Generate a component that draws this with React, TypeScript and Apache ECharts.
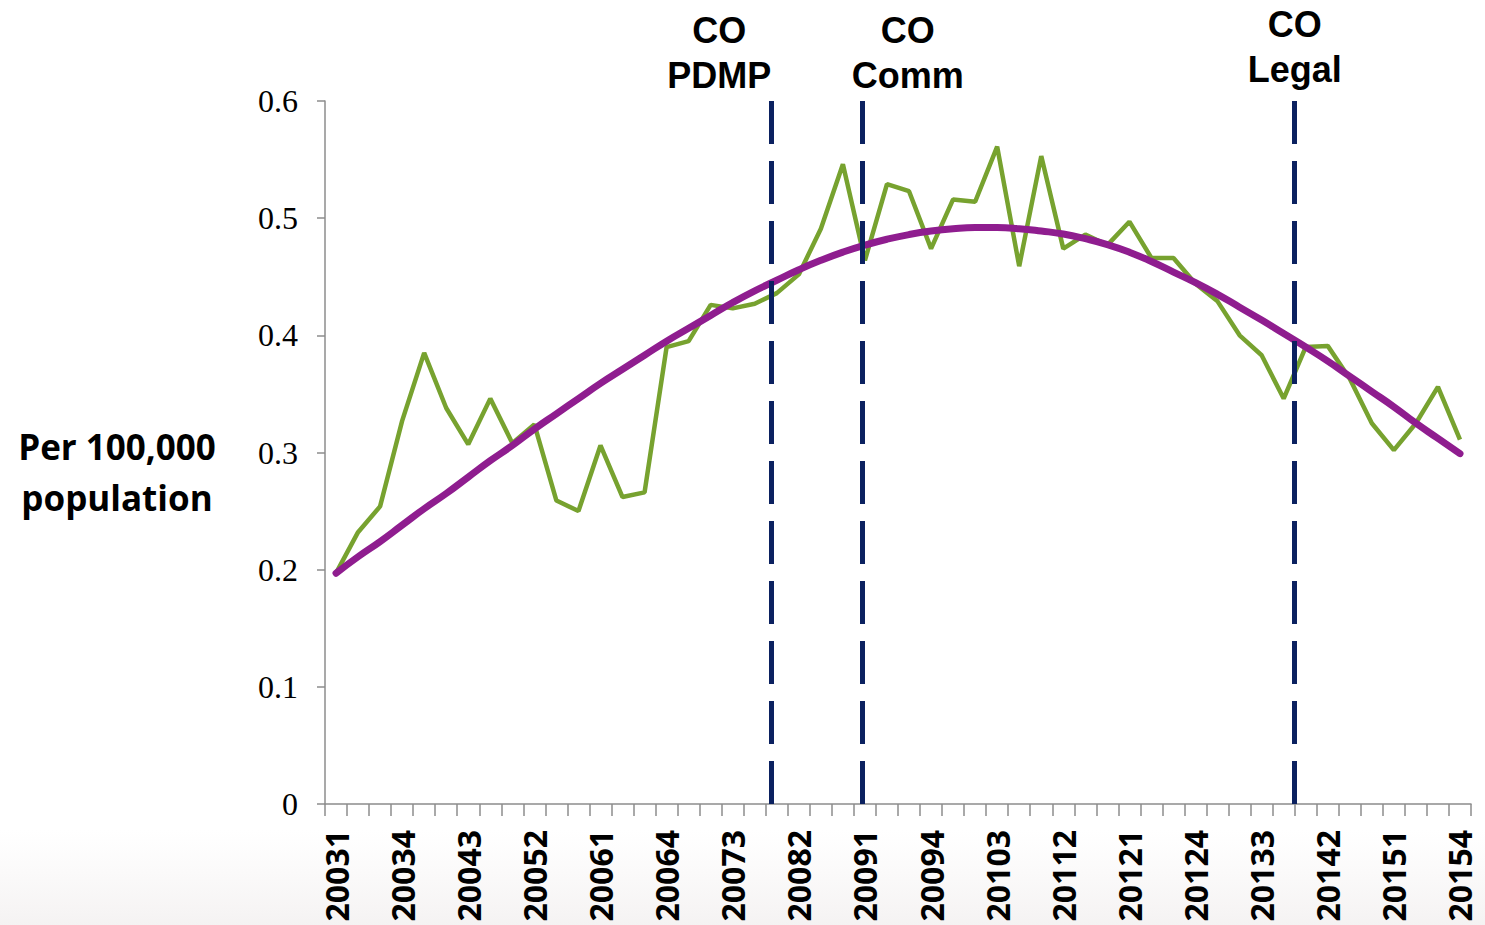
import React, { useEffect, useRef } from "react";
import * as echarts from "echarts";

const quarters = [
  "20031", "20032", "20033", "20034",
  "20041", "20042", "20043", "20044",
  "20051", "20052", "20053", "20054",
  "20061", "20062", "20063", "20064",
  "20071", "20072", "20073", "20074",
  "20081", "20082", "20083", "20084",
  "20091", "20092", "20093", "20094",
  "20101", "20102", "20103", "20104",
  "20111", "20112", "20113", "20114",
  "20121", "20122", "20123", "20124",
  "20131", "20132", "20133", "20134",
  "20141", "20142", "20143", "20144",
  "20151", "20152", "20153", "20154",
];

const rates = [
  0.197, 0.232, 0.254, 0.327, 0.385, 0.338, 0.307, 0.346, 0.308, 0.324,
  0.259, 0.250, 0.306, 0.262, 0.266, 0.390, 0.395, 0.426, 0.423, 0.427,
  0.436, 0.452, 0.491, 0.546, 0.464, 0.529, 0.523, 0.474, 0.516, 0.514,
  0.561, 0.459, 0.553, 0.474, 0.486, 0.477, 0.497, 0.466, 0.466, 0.444,
  0.429, 0.400, 0.383, 0.346, 0.390, 0.391, 0.363, 0.325, 0.302, 0.325,
  0.356, 0.311,
];

const trend = [
  0.197, 0.211, 0.224, 0.238, 0.252, 0.265, 0.279, 0.293, 0.306, 0.320,
  0.333, 0.346, 0.359, 0.371, 0.383, 0.395, 0.406, 0.417, 0.428, 0.438,
  0.447, 0.456, 0.464, 0.471, 0.477, 0.482, 0.486, 0.489, 0.491, 0.492,
  0.492, 0.491, 0.489, 0.4865, 0.4825, 0.4775, 0.471, 0.463, 0.454, 0.445,
  0.435, 0.424, 0.413, 0.4015, 0.390, 0.378, 0.365, 0.352, 0.339, 0.325,
  0.312, 0.299,
];

const yTicks = { min: 0, max: 0.6, step: 0.1 };

const eventLabels = ["CO\nPDMP", "CO\nComm", "CO\nLegal"];
// event positions in quarter-index units (0 = 20031)
const eventPositions = [19.75, 23.9, 43.5];

const yAxisTitle = "Per 100,000\npopulation";

// layout for annotation texts (not data)
const LABEL_DX = [-52, 45, 0];
const LABEL_TOP = [8, 8, 2];

export default function App() {
  const ref = useRef<HTMLDivElement>(null);

  useEffect(() => {
    if (!ref.current) return;
    const chart = echarts.init(ref.current, undefined, { renderer: "svg" });
    const option: any = {
      animation: false,
      backgroundColor: "#ffffff",
      grid: { left: 325, right: 14, top: 101, bottom: 121, containLabel: false },
      xAxis: [
        {
          type: "category",
          data: quarters,
          boundaryGap: true,
          axisLine: { show: true, onZero: false, lineStyle: { color: "#8c8c8c", width: 1.5 } },
          axisTick: {
            show: true,
            interval: 0,
            length: 12,
            lineStyle: { color: "#8c8c8c", width: 1.5 },
          },
          axisLabel: {
            interval: 2,
            rotate: 90,
            margin: 26,
            color: "#000",
            fontFamily: "Open Sans",
            fontWeight: "bold",
            fontSize: 32,
          },
          splitLine: { show: false },
        },
        {
          type: "value",
          min: -0.5,
          max: quarters.length - 0.5,
          show: false,
        },
      ],
      yAxis: {
        type: "value",
        min: yTicks.min,
        max: yTicks.max,
        interval: yTicks.step,
        axisLine: { show: true, onZero: false, lineStyle: { color: "#8c8c8c", width: 1.5 } },
        axisTick: { show: true, length: 8, lineStyle: { color: "#8c8c8c", width: 1.5 } },
        axisLabel: {
          margin: 27,
          color: "#000",
          fontFamily: "Liberation Serif",
          fontSize: 32,
        },
        splitLine: { show: false },
      },
      series: [
        {
          name: "Rate",
          type: "line",
          data: rates,
          xAxisIndex: 0,
          symbol: "none",
          z: 3,
          lineStyle: { color: "#77a22f", width: 4.5 },
          itemStyle: { color: "#77a22f" },
        },
        {
          name: "Trend",
          type: "line",
          data: trend,
          xAxisIndex: 0,
          smooth: true,
          symbol: "none",
          z: 4,
          lineStyle: { color: "#8f1d8f", width: 7, cap: "round" },
          itemStyle: { color: "#8f1d8f" },
        },
        {
          name: "Events",
          type: "line",
          xAxisIndex: 1,
          data: eventPositions.map((p) => [p, 0]),
          symbol: "none",
          z: 5,
          lineStyle: { opacity: 0 },
          markLine: {
            silent: true,
            symbol: ["none", "none"],
            label: { show: false },
            lineStyle: { color: "#0b2160", width: 5, type: [43, 17] },
            data: eventPositions.map((p) => ({ xAxis: p })),
          },
        },
      ],
    };
    chart.setOption(option);

    const labelGraphics = eventLabels.map((t, k) => {
      const px = chart.convertToPixel({ xAxisIndex: 1 }, eventPositions[k]) as number;
      return {
        type: "text",
        x: px + LABEL_DX[k],
        y: LABEL_TOP[k],
        z: 10,
        style: {
          text: t,
          fill: "#000",
          fontFamily: "Liberation Sans",
          fontWeight: "bold",
          fontSize: 36,
          lineHeight: 45,
          align: "center",
          verticalAlign: "top",
        },
      };
    });

    chart.setOption({
      graphic: [
        {
          type: "rect",
          z: -1,
          silent: true,
          shape: { x: 0, y: 830, width: 1485, height: 95 },
          style: {
            fill: {
              type: "linear",
              x: 0,
              y: 0,
              x2: 0,
              y2: 1,
              colorStops: [
                { offset: 0, color: "rgba(240,236,236,0)" },
                { offset: 1, color: "rgba(236,232,232,0.55)" },
              ],
            },
          },
        },
        {
          type: "text",
          x: 117,
          y: 472,
          z: 10,
          style: {
            text: yAxisTitle,
            fill: "#000",
            fontFamily: "Open Sans",
            fontWeight: "bold",
            fontSize: 35,
            lineHeight: 51,
            align: "center",
            verticalAlign: "middle",
          },
        },
        ...labelGraphics,
      ],
    });

    return () => chart.dispose();
  }, []);

  return (
    <div
      ref={ref}
      style={{ position: "fixed", left: 0, top: 0, width: 1485, height: 925, background: "#fff" }}
    />
  );
}
